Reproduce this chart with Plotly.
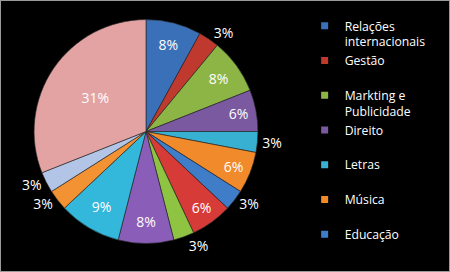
import plotly.graph_objects as go

# Slice data (clockwise from 12 o'clock)
slice_labels = [
    "Relações internacionais", "Gestão", "Markting e Publicidade", "Direito",
    "Letras", "Música", "Educação", "Categoria 8", "Categoria 9", "Categoria 10",
    "Categoria 11", "Categoria 12", "Categoria 13", "Categoria 14",
]
slice_values = [8, 3, 8, 6, 3, 6, 3, 6, 3, 8, 9, 3, 3, 31]
slice_colors = [
    "#3A70B8", "#C0392F", "#8CB545", "#7A59A0", "#38B0D2", "#F08A2A",
    "#3F7DC9", "#D63B37", "#8EC442", "#8A5EB8", "#33B7DA", "#F39232",
    "#B3C5E6", "#E3A3A3",
]

# Legend entries visible in the reference
legend_names = [
    "Relações<br>internacionais", "Gestão<br> ", "Markting e<br>Publicidade",
    "Direito<br> ", "Letras<br> ", "Música<br> ", "Educação<br> ",
]
legend_colors = slice_colors[:7]

fig = go.Figure()

fig.add_trace(go.Pie(
    labels=slice_labels,
    values=slice_values,
    sort=False,
    direction="clockwise",
    rotation=0,
    marker=dict(colors=slice_colors, line=dict(color="rgba(40,40,40,0.8)", width=0.8)),
    texttemplate="%{value}%",
    textposition=["inside" if v > 5 else "outside" for v in slice_values],
    insidetextorientation="horizontal",
    textfont=dict(color="white", size=14, family="Open Sans"),
    insidetextfont=dict(color="white", size=14, family="Open Sans"),
    outsidetextfont=dict(color="white", size=14, family="Open Sans"),
    showlegend=False,
    domain=dict(x=[0.0756, 0.5733], y=[0.105, 0.928]),
    hoverinfo="label+percent",
))

for name, col in zip(legend_names, legend_colors):
    fig.add_trace(go.Scatter(
        x=[None], y=[None], mode="markers", name=name,
        marker=dict(symbol="square", size=7, color=col),
        showlegend=True,
    ))

fig.update_layout(
    width=450, height=272,
    margin=dict(l=0, r=0, t=0, b=0),
    paper_bgcolor="black",
    plot_bgcolor="black",
    xaxis=dict(visible=False),
    yaxis=dict(visible=False),
    legend=dict(
        x=0.677, y=0.958, xanchor="left", yanchor="top",
        font=dict(color="white", size=12.2, family="Open Sans"),
        bgcolor="rgba(0,0,0,0)",
        valign="top",
        itemwidth=30,
        tracegroupgap=0,
    ),
    shapes=[dict(type="rect", xref="paper", yref="paper", x0=0, y0=0, x1=1, y1=1,
                 line=dict(color="#9a9a9a", width=2))],
)

fig.write_html("out.html")
